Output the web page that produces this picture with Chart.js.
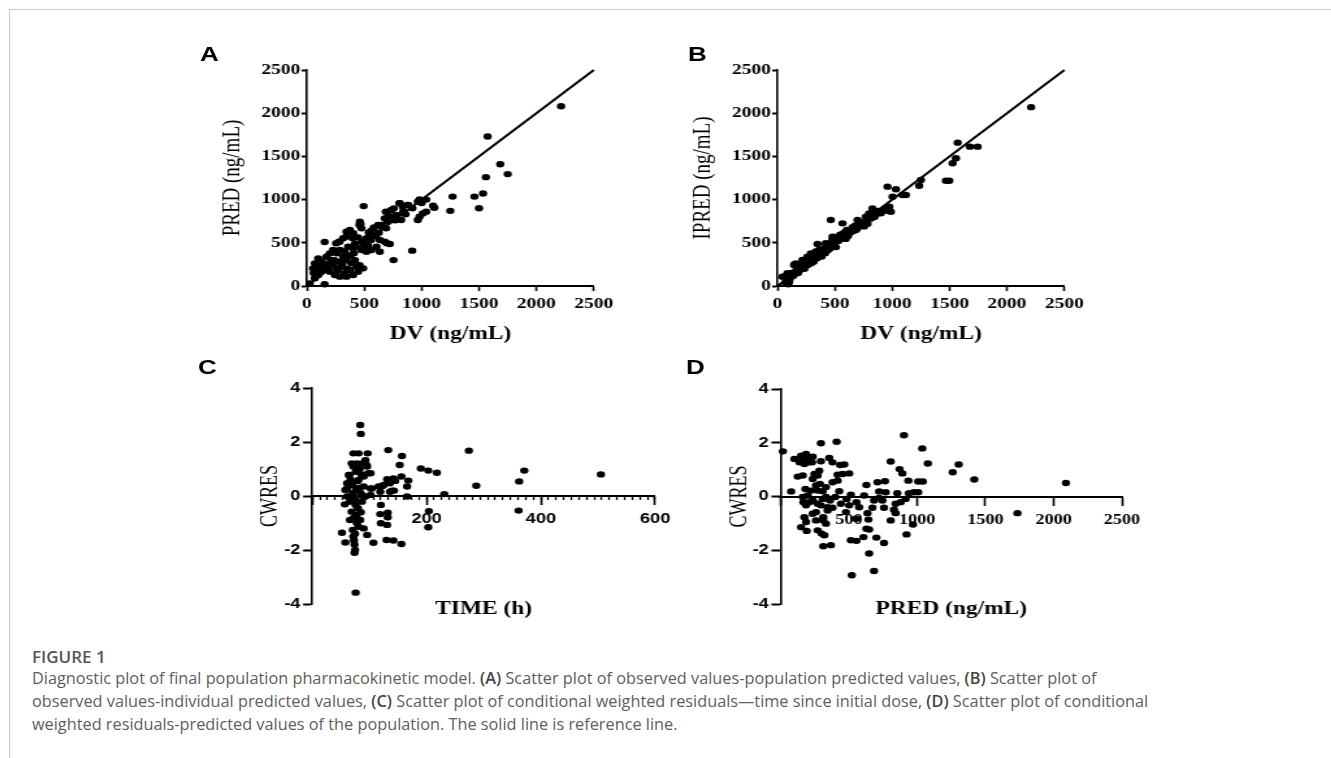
<!DOCTYPE html>
<html>
<head>
<meta charset="utf-8">
<script src="https://cdn.jsdelivr.net/npm/chart.js@4.4.0/dist/chart.umd.min.js"></script>
<style>
  html, body { margin: 0; padding: 0; background: #fff; }
  body { width: 1331px; height: 758px; overflow: hidden; position: relative; }
  #frame { position: absolute; left: 9px; top: 9px; right: 0; bottom: 0;
           border-left: 1px solid #c8c8c8; border-top: 1px solid #c8c8c8; }
  #fig { position: absolute; left: 0; top: 0; width: 1100px; height: 640px; transform-origin: 0 0; }
  #fig canvas { position: absolute; }
  .tag { position: absolute; font: bold 20px "Liberation Sans", Arial, sans-serif; color: #000; line-height: 20px; }
  #figno { position: absolute; left: 32px; top: 647px; font: 600 17px "Open Sans", sans-serif; color: #555; line-height: 20px; }
  #caption { position: absolute; left: 32px; top: 667px; width: 1290px; font: 16.3px "Open Sans", sans-serif;
             color: #5e5e5e; line-height: 23px; white-space: nowrap; }
  #caption b { color: #444; font-weight: 600; }
</style>
</head>
<body>
<div id="frame"></div>
<div id="fig"></div>
<div id="figno">FIGURE 1</div>
<div id="caption">Diagnostic plot of final population pharmacokinetic model. <b>(A)</b> Scatter plot of observed values-population predicted values, <b>(B)</b> Scatter plot of<br>observed values-individual predicted values, <b>(C)</b> Scatter plot of conditional weighted residuals—time since initial dose, <b>(D)</b> Scatter plot of conditional<br>weighted residuals-predicted values of the population. The solid line is reference line.</div>
<script>
// A: observed vs population predicted (ng/mL)
const aDV = [2215,1575,1685,1750,1560,1535,1460,1500,1270,1250,
  1110,1100,1040,1010,1040,982,967,982,967,1000,
  918,755,495,155,155,25,810,883,839,758,
  781,723,688,679,700,650,621,584,563,549,
  601,636,679,723,520,476,462,476,468,375,
  346,404,317,282,447,418,505,563,520,476,
  534,607,636,404,360,288,259,200,99,70,
  113,84,55,99,70,171,215,229,186,142,
  200,259,302,288,346,389,433,491,447,375,
  331,288,244,346,404,317,229,459,648,711,
  735,807,836,880,822,691,627,697,560,357,
  343,285,256,401,130,160,240,270,310,350,
  420,460,380,60,120,190,330,410,540,770,
  860,920];
const aPRED = [2080,1730,1410,1295,1260,1070,1035,900,1035,870,
  905,930,1000,840,860,802,764,1003,976,960,
  409,300,925,510,20,30,957,937,860,899,
  822,802,860,783,745,687,706,679,640,590,
  579,532,513,486,552,513,745,667,718,648,
  629,610,552,513,563,486,455,417,397,417,
  475,455,397,436,455,417,378,378,320,262,
  243,185,204,127,89,339,301,243,224,185,
  166,204,224,282,301,262,224,204,166,185,
  147,108,127,108,127,339,417,706,706,814,
  880,957,918,937,764,667,617,494,532,629,
  571,513,494,552,280,230,300,180,260,200,
  300,240,350,150,200,260,400,380,620,760,
  830,900];

// B: observed vs individual predicted (ng/mL)
const bDV = [60,75,85,95,100,110,125,140,150,160,
  170,180,195,205,215,225,235,250,260,270,
  280,290,300,315,325,335,345,355,365,375,
  385,395,405,415,425,435,445,455,470,480,
  490,500,510,520,530,545,560,570,585,595,
  605,615,625,640,655,665,680,695,710,725,
  740,755,770,785,800,815,830,845,860,880,
  900,920,940,960,2210,1570,1555,1526,1677,1744,
  1468,1497,1250,1235,1119,1090,1032,1003,959,988,
  974,901,828,799,770,465,567,698,741,625,
  683,596,509,480,552,422,349,363,291,262,
  218,160,145,87,44,73,102];
const bIPRED = [110,60,30,20,140,90,150,120,250,175,
  240,150,210,190,260,230,200,270,240,330,
  300,260,310,280,350,400,320,370,350,420,
  340,390,430,380,460,410,470,430,500,540,
  470,510,450,560,520,590,600,550,620,545,
  650,580,610,625,680,640,700,665,740,700,
  730,690,750,720,800,780,850,800,830,870,
  860,880,900,870,2070,1659,1478,1420,1613,1613,
  1219,1219,1227,1161,1053,1053,1119,1034,1150,860,
  918,841,899,841,802,764,725,764,706,629,
  648,571,532,571,590,494,486,417,378,340,
  301,262,243,147,108,31,50];

// C: CWRES vs time since first dose (h)
const cTIME = [84,85,72,133,157,153,168,166,156,190,
  203,218,231,274,287,371,362,361,505,204,
  203,166,120,119,120,132,132,131,130,142,
  156,107,96,52,58,76,75,74,72,71,
  81,84,78,69,66,76,57,61,58,61,
  65,72,78,87,93,97,96,102,90,81,
  90,102,85,77,71,66,87,93,102,116,
  125,136,131,142,143,136,119,65,69,81,
  95,145,123,140,104,98,64,61,74,73,
  75,78,73,80,74,82,70,79,86,83,
  88,76,67,85,90];
const cCWRES = [2.63,2.30,1.58,1.70,1.48,1.15,0.57,0.35,0.72,1.02,
  0.94,0.86,0.07,1.68,0.38,0.94,0.54,-0.54,0.80,-0.56,
  -1.16,-0.02,-0.33,-0.67,-1.01,-0.62,-0.79,-1.07,-1.63,-1.65,
  -1.78,-1.73,-1.44,-1.36,-1.72,-3.58,-2.00,-2.10,-1.50,-1.26,
  -1.14,-0.89,-0.70,-0.58,-0.89,-0.33,-0.31,-0.02,0.22,0.47,
  0.78,1.09,1.21,1.21,1.33,1.58,1.09,0.84,0.72,0.59,
  0.35,0.28,0.10,0.22,0.10,-0.21,-0.21,-0.02,0.04,0.35,
  0.41,0.47,0.62,0.65,0.20,0.16,0.16,-0.02,1.21,1.58,
  1.15,0.56,0.37,0.20,0.28,0.84,0.78,0.28,-1.80,-1.65,
  -1.40,-1.00,-0.80,-0.45,-0.15,0.30,0.40,0.55,0.80,1.00,
  0.00,0.90,0.60,-0.60,-1.20];

// D: CWRES vs population predicted (ng/mL)
const dPRED = [17,78,296,411,904,1038,1079,1261,1305,1419,
  2090,1735,807,872,892,936,1008,1042,629,710,
  765,770,722,855,940,977,1008,916,880,843,
  831,843,807,746,758,722,685,673,637,644,
  629,649,607,576,556,515,612,479,552,515,
  556,702,758,649,685,522,970,923,484,503,
  430,442,401,381,345,362,333,418,455,503,
  437,467,357,381,418,381,345,309,296,313,
  313,272,301,321,313,369,333,236,260,260,
  175,187,151,192,211,236,272,187,168,163,
  199,182,224,260,289,236,272,248,284,126,
  163,231,296,102,139,163,187,151,207,236,
  175,211,309,333,272];
const dCWRES = [1.68,0.19,1.98,2.04,2.28,1.79,1.23,0.90,1.19,0.63,
  0.50,-0.62,1.30,1.02,0.86,0.59,0.56,0.56,0.43,0.53,
  0.57,0.16,0.19,0.12,0.12,0.16,0.16,-0.09,-0.21,-0.27,
  -0.49,-0.62,-0.89,-0.15,-0.42,-0.05,-0.15,-0.42,-0.62,-0.86,
  -1.20,-1.23,-1.51,-0.40,-0.21,0.07,0.04,-0.58,-0.83,-1.63,
  -1.65,-1.53,-1.73,-2.12,-2.77,-2.93,-1.04,-1.41,-0.09,-0.33,
  0.20,-0.27,-0.02,-0.42,-0.40,-0.15,-0.02,0.81,0.84,0.86,
  1.17,1.19,1.43,1.27,0.59,0.53,-0.52,-0.09,-0.33,-0.77,
  -0.89,-1.26,-1.38,-1.44,-1.85,-1.81,-1.01,-0.64,-0.58,-0.89,
  -0.77,-0.95,-1.14,-1.28,-0.21,-0.15,-0.27,-0.33,-0.21,-0.02,
  0.04,0.28,0.22,0.41,0.47,0.65,0.78,0.84,0.96,0.74,
  0.78,1.27,1.31,1.40,1.27,1.40,1.58,1.52,1.46,1.48,
  1.21,1.27,0.20,0.35,0.22];

// the figure image is stretched sideways, so the panels are drawn narrow and widened
const S = 1.3;
const fig = document.getElementById('fig');
fig.style.transform = 'scaleX(' + S + ')';

const SERIF = '"Liberation Serif", "Times New Roman", serif';
const SANS = '"Liberation Sans", Arial, sans-serif';
const tickSerif = { family: SERIF, weight: 'bold', size: 15 };
const tickSerifSm = { family: SERIF, weight: 'bold', size: 14 };
const tickSans = { family: SANS, weight: 'bold', size: 14 };
const xTitleFont = { family: SERIF, weight: 'bold', size: 18 };
const yTitleFont = { family: SERIF, weight: 'normal', size: 19 };

function pts(xs, ys) { return xs.map((v, i) => ({ x: v, y: ys[i] })); }

function dots(data) {
  return { type: 'scatter', data: data, backgroundColor: '#000', borderWidth: 0,
           pointRadius: 3.2, pointHoverRadius: 3.2, clip: false };
}

function addTag(text, x, y) {
  const d = document.createElement('div');
  d.className = 'tag';
  d.textContent = text;
  d.style.left = (x / S) + 'px';
  d.style.top = y + 'px';
  fig.appendChild(d);
}

// box = canvas rect, area = plot rect, both in page pixels
function makeCanvas(box) {
  const cv = document.createElement('canvas');
  const w = Math.round((box.R - box.L) / S), h = box.B - box.T;
  cv.width = w; cv.height = h;
  cv.style.left = (box.L / S) + 'px';
  cv.style.top = box.T + 'px';
  cv.style.width = w + 'px';
  cv.style.height = h + 'px';
  fig.appendChild(cv);
  return cv;
}

function dims(box, area, yTitleX, xTitleY) {
  const w = Math.round((box.R - box.L) / S);
  const yW = (area.l - box.L) / S;
  return {
    yW: yW,
    xH: box.B - area.b,
    pad: { left: 0, top: area.t - box.T, right: w - yW - (area.r - area.l) / S, bottom: 0 },
    yTitlePad: (yTitleX - box.L) / S - yTitleFont.size * 0.6,
    xTitlePad: box.B - xTitleY - xTitleFont.size * 0.6
  };
}

const plain = v => String(v);

const baseOpts = {
  responsive: false, animation: false, devicePixelRatio: 1,
  plugins: { legend: { display: false }, tooltip: { enabled: false } }
};

function identityPanel(box, area, xs, ys, yText, yTitleX, xTitleY) {
  const d = dims(box, area, yTitleX, xTitleY);
  new Chart(makeCanvas(box), {
    type: 'scatter',
    data: { datasets: [
      { type: 'line', data: [{ x: 0, y: 0 }, { x: 2500, y: 2500 }], borderColor: '#000',
        borderWidth: 2, pointRadius: 0, fill: false, clip: false },
      dots(pts(xs, ys))
    ] },
    options: Object.assign({}, baseOpts, {
      layout: { padding: d.pad },
      scales: {
        x: { type: 'linear', position: 'bottom', min: 0, max: 2500,
          ticks: { stepSize: 500, font: tickSerif, color: '#000', padding: 4, maxRotation: 0, callback: plain },
          grid: { drawOnChartArea: false, tickLength: 5, tickColor: '#000', tickWidth: 1.6 },
          border: { color: '#000', width: 2 },
          title: { display: true, text: 'DV (ng/mL)', font: xTitleFont, color: '#000',
                   padding: { top: 0, bottom: d.xTitlePad } },
          afterFit: s => { s.height = d.xH; } },
        y: { type: 'linear', position: 'left', min: 0, max: 2500,
          ticks: { stepSize: 500, font: tickSerif, color: '#000', padding: 1, callback: plain },
          grid: { drawOnChartArea: false, tickLength: 4, tickColor: '#000', tickWidth: 2 },
          border: { color: '#000', width: 1.6 },
          title: { display: true, text: yText, font: yTitleFont, color: '#000',
                   padding: { top: d.yTitlePad, bottom: 0 } },
          afterFit: s => { s.width = d.yW; } }
      }
    })
  });
}

function residualPanel(box, area, xs, ys, xMax, xStep, xFont, xText, yTitleX, xTitleY, minorPerStep) {
  const d = dims(box, area, yTitleX, xTitleY);
  const scales = {
    x: { type: 'linear', position: { y: 0 }, min: 0, max: xMax,
      ticks: { stepSize: xStep, font: xFont, color: '#000', padding: 7, maxRotation: 0,
               callback: v => (v === 0 ? '' : String(v)) },
      grid: { drawOnChartArea: false, tickLength: 8, tickColor: '#000', tickWidth: 1.6 },
      border: { color: '#000', width: 2 } },
    y: { type: 'linear', position: 'left', min: -4, max: 4,
      ticks: { stepSize: 2, font: tickSans, color: '#000', padding: 2, callback: plain },
      grid: { drawOnChartArea: false, tickLength: 7, tickColor: '#000', tickWidth: 2 },
      border: { color: '#000', width: 1.6 },
      title: { display: true, text: 'CWRES', font: { family: SERIF, size: 18 }, color: '#000',
               padding: { top: (yTitleX - box.L) / S - 18 * 0.6, bottom: 0 } },
      afterFit: s => { s.width = d.yW; } },
    xt: { type: 'linear', position: 'bottom', min: 0, max: 1,
      ticks: { display: false }, grid: { display: false }, border: { display: false },
      title: { display: true, text: xText, font: xTitleFont, color: '#000',
               padding: { top: 0, bottom: d.xTitlePad } },
      afterFit: s => { s.height = d.xH; } }
  };
  if (minorPerStep) {
    const n = Math.round(xMax / xStep) * minorPerStep;
    scales.xm = { type: 'linear', position: { y: 0 }, min: 0, max: xMax,
      afterBuildTicks: s => { s.ticks = Array.from({ length: n + 1 }, (_, i) => ({ value: i * xMax / n })); },
      ticks: { display: false },
      grid: { drawOnChartArea: false, tickLength: 4, tickColor: '#000', tickWidth: 1.3 },
      border: { display: false } };
  }
  new Chart(makeCanvas(box), {
    type: 'scatter',
    data: { datasets: [dots(pts(xs, ys))] },
    options: Object.assign({}, baseOpts, { layout: { padding: d.pad }, scales: scales })
  });
}

identityPanel({ L: 190, T: 50, R: 624, B: 352 }, { l: 307, t: 70, r: 594, b: 286 },
  aDV, aPRED, 'PRED (ng/mL)', 233, 334);
identityPanel({ L: 661, T: 50, R: 1095, B: 352 }, { l: 778, t: 70, r: 1065, b: 286 },
  bDV, bIPRED, 'IPRED (ng/mL)', 704, 334);
residualPanel({ L: 200, T: 370, R: 685, B: 628 }, { l: 312, t: 388, r: 655, b: 604 },
  cTIME, cCWRES, 600, 200, tickSans, 'TIME (h)', 270, 609, 15);
residualPanel({ L: 670, T: 370, R: 1150, B: 628 }, { l: 781, t: 389, r: 1124, b: 604 },
  dPRED, dCWRES, 2500, 500, tickSerifSm, 'PRED (ng/mL)', 741, 609, 0);

addTag('A', 200, 44);
addTag('B', 688, 44);
addTag('C', 198, 357);
addTag('D', 686, 357);
</script>
</body>
</html>
